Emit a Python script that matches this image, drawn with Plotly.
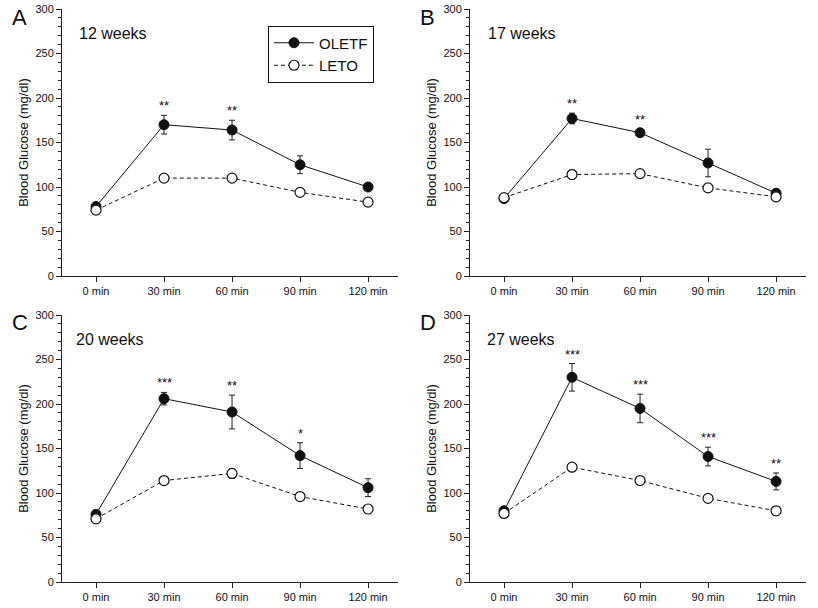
import plotly.graph_objects as go

# ---------------- data ----------------
time_labels = ["0 min", "30 min", "60 min", "90 min", "120 min"]
panel_letters = ["A", "B", "C", "D"]
panel_titles = ["12 weeks", "17 weeks", "20 weeks", "27 weeks"]

oletf_a = [78, 170, 164, 125, 100]
oletf_a_err = [2, 10.5, 11, 10, 3]
leto_a = [74, 110, 110, 94, 83]
leto_a_err = [3, 3, 2, 3, 3]
stars_a = ["", "**", "**", "", ""]

oletf_b = [87, 177, 161, 127, 93]
oletf_b_err = [2, 6, 4, 15.5, 2]
leto_b = [88, 114, 115, 99, 89]
leto_b_err = [3, 5, 3, 3, 3]
stars_b = ["", "**", "**", "", ""]

oletf_c = [76, 206, 191, 142, 106]
oletf_c_err = [2, 7, 19, 14.5, 10]
leto_c = [71, 114, 122, 96, 82]
leto_c_err = [3, 3, 5, 2, 2]
stars_c = ["", "***", "**", "*", ""]

oletf_d = [80, 230, 195, 141, 113]
oletf_d_err = [2, 15.5, 16, 10.5, 9.5]
leto_d = [77, 129, 114, 94, 80]
leto_d_err = [2, 4, 2, 3, 3]
stars_d = ["", "***", "***", "***", "**"]

panels = [
    (oletf_a, oletf_a_err, leto_a, leto_a_err, stars_a),
    (oletf_b, oletf_b_err, leto_b, leto_b_err, stars_b),
    (oletf_c, oletf_c_err, leto_c, leto_c_err, stars_c),
    (oletf_d, oletf_d_err, leto_d, leto_d_err, stars_d),
]

# ---------------- layout geometry (page pixels) ----------------
W, H = 818, 608
FONT = "Liberation Sans, Arial, sans-serif"


def px(xp):
    return xp / W


def py(yp):
    return 1 - yp / H


boxes = [  # left, right, top, bottom (page pixels)
    (62, 398, 9, 276),
    (470, 806, 9, 276),
    (62, 398, 315, 582),
    (470, 806, 315, 582),
]
letter_pos = [(19.5, 17.5), (427, 17.5), (19.5, 322.5), (428, 322.5)]
title_pos = [(77, 33.5), (486, 33.5), (74, 339), (485, 339)]

xpos = list(range(len(time_labels)))
fig = go.Figure()
layout = dict(
    width=W, height=H,
    margin=dict(l=0, r=0, t=0, b=0),
    paper_bgcolor="white", plot_bgcolor="white",
    font=dict(family=FONT, color="#111"),
    showlegend=True,
    legend=dict(
        x=px(268), y=py(54), xanchor="left", yanchor="middle",
        bordercolor="#111", borderwidth=1, bgcolor="white",
        font=dict(size=15, family=FONT, color="#111"),
        tracegroupgap=0, itemwidth=40,
    ),
)
annotations = []

for k, (ol, ole, le, lee, st) in enumerate(panels):
    n = k + 1
    xa = "x" if n == 1 else f"x{n}"
    ya = "y" if n == 1 else f"y{n}"
    l, r, t, b = boxes[k]
    layout["xaxis" if n == 1 else f"xaxis{n}"] = dict(
        domain=[px(l), px(r)], anchor=ya,
        range=[-0.5, 4.44], tickvals=xpos, ticktext=time_labels,
        showline=True, linecolor="#222", linewidth=1,
        ticks="outside", ticklen=5, tickcolor="#222",
        showgrid=False, zeroline=False, automargin=False,
        tickfont=dict(size=11, family=FONT, color="#111"),
        fixedrange=True,
    )
    layout["yaxis" if n == 1 else f"yaxis{n}"] = dict(
        domain=[py(b), py(t)], anchor=xa,
        range=[0, 300], tickvals=[0, 50, 100, 150, 200, 250, 300],
        showline=True, linecolor="#222", linewidth=1,
        ticks="outside", ticklen=5, tickcolor="#222",
        minor=dict(dtick=10, ticks="outside", ticklen=3, tickcolor="#222", showgrid=False),
        showgrid=False, zeroline=False, automargin=False,
        tickfont=dict(size=11, family=FONT, color="#111"),
        title=dict(text="Blood Glucose (mg/dl)", font=dict(size=13, family=FONT, color="#111"), standoff=3),
        fixedrange=True,
    )
    fig.add_trace(go.Scatter(
        x=xpos, y=ol, xaxis=xa, yaxis=ya, mode="lines+markers",
        name="OLETF", legendgroup="OLETF", showlegend=(n == 1),
        line=dict(color="#111", width=1),
        marker=dict(size=10, color="#111", line=dict(color="#111", width=1)),
        error_y=dict(type="data", array=ole, visible=True, color="#222", thickness=1, width=3),
    ))
    fig.add_trace(go.Scatter(
        x=xpos, y=le, xaxis=xa, yaxis=ya, mode="lines+markers",
        name="LETO", legendgroup="LETO", showlegend=(n == 1),
        line=dict(color="#111", width=1, dash="4px,3px"),
        marker=dict(size=10, color="white", line=dict(color="#111", width=1.2)),
        error_y=dict(type="data", array=lee, visible=True, color="#222", thickness=1, width=3),
    ))
    for i, s in enumerate(st):
        if s:
            annotations.append(dict(
                x=xpos[i], y=ol[i] + ole[i], xref=xa, yref=ya, text=s,
                showarrow=False, yanchor="bottom", xanchor="center", yshift=0,
                font=dict(size=13, family=FONT, color="#111"),
            ))
    lx, ly = letter_pos[k]
    annotations.append(dict(
        x=px(lx), y=py(ly), xref="paper", yref="paper",
        text=panel_letters[k], showarrow=False, xanchor="center", yanchor="middle",
        font=dict(size=22, family=FONT, color="#111"),
    ))
    tx, ty = title_pos[k]
    annotations.append(dict(
        x=px(tx), y=py(ty), xref="paper", yref="paper",
        text=panel_titles[k], showarrow=False, xanchor="left", yanchor="middle",
        font=dict(size=16, family=FONT, color="#111"),
    ))

layout["annotations"] = annotations
fig.update_layout(**layout)
fig.write_html(
    "out.html",
    config={"displayModeBar": False},
    post_script="document.body.style.margin='0';",
)
